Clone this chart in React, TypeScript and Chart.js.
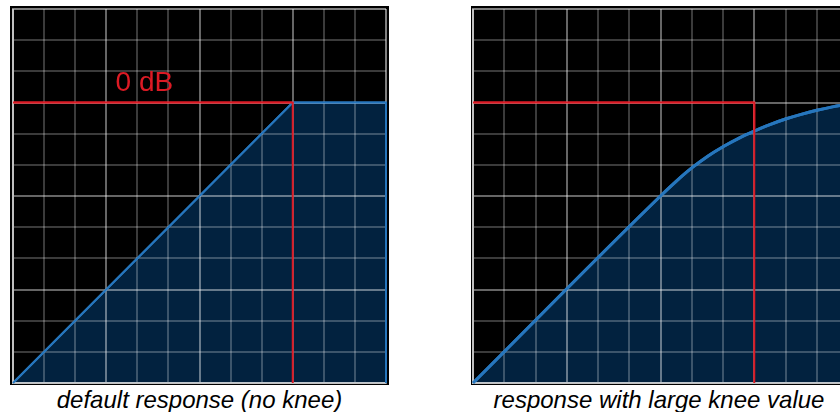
import { useEffect, useRef } from "react";
import { Chart, registerables } from "chart.js";

Chart.register(...registerables);

// grid units: 12 x 12 cells, threshold (0 dB) at 9
const axisMin = 0;
const axisMax = 12;
const thresholdX = 9;
const thresholdY = 9;

// default response (no knee)
const noKneeX = [0, 9, 12, 12];
const noKneeY = [0, 9, 9, 0];

// response with large knee value
const kneeX = [0, 6, 6.5, 7, 7.5, 8, 8.5, 9, 9.5, 10, 10.5, 11, 11.5, 12];
const kneeY = [0, 6, 6.47, 6.9, 7.27, 7.58, 7.85, 8.08, 8.29, 8.47, 8.62, 8.75, 8.86, 8.95];

// threshold guide
const guideX = [axisMin, thresholdX, thresholdX];
const guideY = [thresholdY, thresholdY, axisMin];

const thresholdLabel = "0 dB";
const labelX = 3.3;
const labelY = 9.37;

const captions = ["default response (no knee)", "response with large knee value"];

const FILL = "#02223f";
const LINE = "#2676bd";
const RED = "#dc1a24";

const overlayPlugin = {
  id: "overlay",
  afterDraw(chart: any, _args: any, opts: any) {
    const ctx = chart.ctx;
    const a = chart.chartArea;
    ctx.save();
    ctx.beginPath();
    ctx.rect(a.left - 2, a.top - 2, a.right - a.left + 4, a.bottom - a.top + 4);
    ctx.clip();
    chart.data.datasets.forEach((_d: any, i: number) => {
      chart.getDatasetMeta(i).controller.draw();
    });
    if (opts && opts.text) {
      const xs = chart.scales.x;
      const ys = chart.scales.y;
      ctx.fillStyle = RED;
      ctx.font = '28px "Liberation Sans", Arial, sans-serif';
      ctx.textAlign = "left";
      ctx.textBaseline = "alphabetic";
      ctx.fillText(opts.text, xs.getPixelForValue(opts.x), ys.getPixelForValue(opts.y));
    }
    ctx.restore();
  },
};

function gridColor(c: any) {
  const v = c.tick ? c.tick.value : 0;
  if (v === axisMin || v === axisMax) return "rgba(255,255,255,0.5)";
  return v % 3 === 0 ? "rgba(255,255,255,0.4)" : "rgba(255,255,255,0.23)";
}

function scaleOpts() {
  return {
    type: "linear" as const,
    min: axisMin,
    max: axisMax,
    ticks: { display: false, stepSize: 1 },
    grid: { z: 1, drawTicks: false, color: gridColor, lineWidth: 2 },
    border: { display: true, z: 1, color: "rgba(255,255,255,0.5)", width: 2 },
  };
}

function Panel(props: {
  left: number;
  width: number;
  padLeft: number;
  xs: number[];
  ys: number[];
  lineWidth: number;
  smooth: boolean;
  label: boolean;
}) {
  const ref = useRef<HTMLCanvasElement | null>(null);
  useEffect(() => {
    if (!ref.current) return;
    const curve = props.xs.map((x, i) => ({ x, y: props.ys[i] }));
    const guide = guideX.map((x, i) => ({ x, y: guideY[i] }));
    const chart = new Chart(ref.current, {
      type: "line",
      data: {
        datasets: [
          {
            data: curve,
            borderColor: LINE,
            borderWidth: props.lineWidth,
            backgroundColor: FILL,
            fill: "origin",
            pointRadius: 0,
            tension: props.smooth ? 0.4 : 0,
            cubicInterpolationMode: props.smooth ? "monotone" : "default",
          },
          {
            data: guide,
            borderColor: RED,
            borderWidth: 2,
            fill: false,
            pointRadius: 0,
            tension: 0,
          },
        ],
      },
      options: {
        responsive: false,
        animation: false,
        events: [],
        layout: { padding: { left: props.padLeft, right: 3, top: 3, bottom: 2 } },
        scales: { x: scaleOpts(), y: scaleOpts() },
        plugins: {
          legend: { display: false },
          tooltip: { enabled: false },
          overlay: props.label ? { text: thresholdLabel, x: labelX, y: labelY } : {},
        } as any,
      },
      plugins: [overlayPlugin],
    });
    return () => chart.destroy();
  }, []);
  return (
    <canvas
      ref={ref}
      width={props.width}
      height={379}
      style={{
        position: "absolute",
        left: props.left,
        top: 6,
        width: props.width,
        height: 379,
        background: "#000",
      }}
    />
  );
}

const captionStyle = {
  position: "absolute" as const,
  top: 388,
  width: 460,
  textAlign: "center" as const,
  fontFamily: '"Liberation Sans", Arial, sans-serif',
  fontStyle: "italic" as const,
  fontSize: 24,
  lineHeight: "24px",
  color: "#000",
  whiteSpace: "nowrap" as const,
};

export default function App() {
  return (
    <div
      style={{
        position: "absolute",
        left: 0,
        top: 0,
        width: 840,
        height: 412,
        overflow: "hidden",
        background: "#fff",
      }}
    >
      <Panel left={10} width={379} padLeft={3} xs={noKneeX} ys={noKneeY} lineWidth={2} smooth={false} label={true} />
      <Panel left={471} width={380} padLeft={2} xs={kneeX} ys={kneeY} lineWidth={3} smooth={true} label={false} />
      <div style={{ ...captionStyle, left: 199.5 - 230 }}>{captions[0]}</div>
      <div style={{ ...captionStyle, left: 659 - 230 }}>{captions[1]}</div>
    </div>
  );
}
